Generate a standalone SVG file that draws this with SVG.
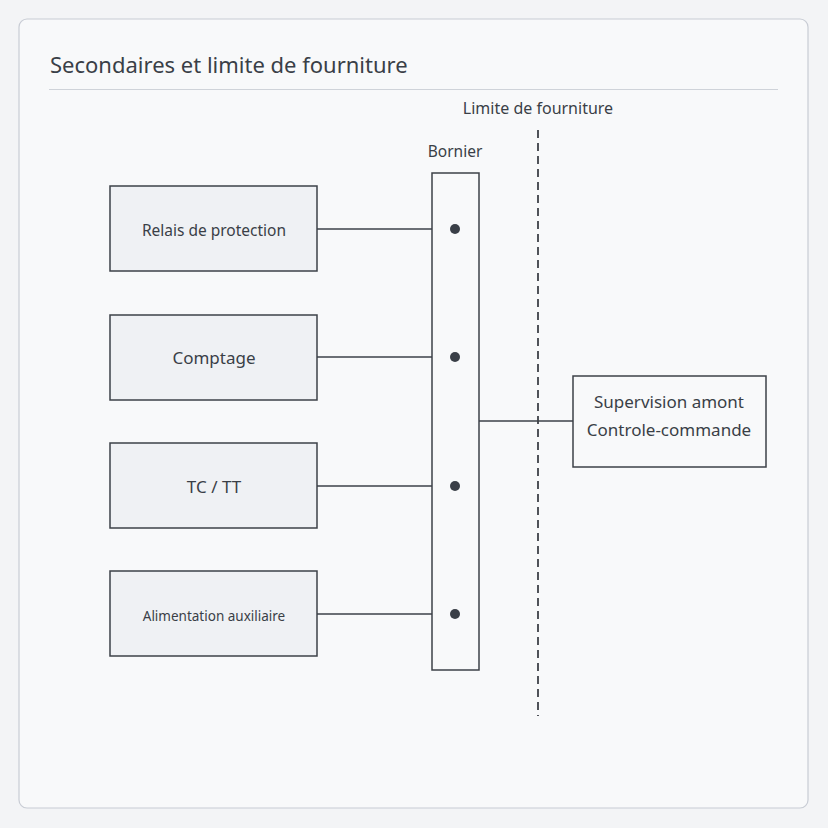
<svg xmlns="http://www.w3.org/2000/svg" width="828" height="828" viewBox="0 0 828 828">
<style>
text{font-family:"Noto Sans","Open Sans","DejaVu Sans",sans-serif;fill:#3a3f47}
.box{fill:#eff1f4;stroke:#3d4148;stroke-width:1.5}
.wire{stroke:#3d4148;stroke-width:1.5;fill:none}
.dot{fill:#3a3f47}
</style>
<rect x="0" y="0" width="828" height="828" fill="#f3f4f6"/>
<rect x="19" y="19" width="789" height="789" rx="8" fill="#f8f9fa" stroke="#c8ccd4" stroke-width="1.2"/>
<text x="50" y="73" font-size="22">Secondaires et limite de fourniture</text>
<line x1="49" y1="89.5" x2="778" y2="89.5" stroke="#cfd3d9" stroke-width="1.2"/>
<g id="connectors">
<line class="wire" x1="317" y1="229" x2="432" y2="229"/>
<line class="wire" x1="317" y1="357" x2="432" y2="357"/>
<line class="wire" x1="317" y1="486" x2="432" y2="486"/>
<line class="wire" x1="317" y1="614" x2="432" y2="614"/>
<line class="wire" x1="479" y1="421" x2="573" y2="421"/>
</g>
<g id="limite">
<line x1="538" y1="130" x2="538" y2="716" stroke="#3d4148" stroke-width="1.8" stroke-dasharray="8 5"/>
<text x="538" y="114" font-size="16" text-anchor="middle">Limite de fourniture</text>
</g>
<g id="relais">
<rect class="box" x="110" y="186" width="207" height="85"/>
<text x="214" y="236" font-size="15.5" text-anchor="middle">Relais de protection</text>
</g>
<g id="comptage">
<rect class="box" x="110" y="315" width="207" height="85"/>
<text x="214" y="364" font-size="17" text-anchor="middle">Comptage</text>
</g>
<g id="tctt">
<rect class="box" x="110" y="443" width="207" height="85"/>
<text x="214" y="493" font-size="17" text-anchor="middle">TC / TT</text>
</g>
<g id="alim">
<rect class="box" x="110" y="571" width="207" height="85"/>
<text x="214" y="621" font-size="13.5" text-anchor="middle">Alimentation auxiliaire</text>
</g>
<g id="bornier">
<text x="455" y="157" font-size="15.5" text-anchor="middle">Bornier</text>
<rect x="432" y="173" width="47" height="497" fill="#f8f9fa" stroke="#3d4148" stroke-width="1.5"/>
<circle class="dot" cx="455" cy="229" r="5"/>
<circle class="dot" cx="455" cy="357" r="5"/>
<circle class="dot" cx="455" cy="486" r="5"/>
<circle class="dot" cx="455" cy="614" r="5"/>
</g>
<g id="supervision">
<rect x="573" y="376" width="193" height="91" fill="#f8f9fa" stroke="#3d4148" stroke-width="1.5"/>
<text x="669" y="408" font-size="17" text-anchor="middle">Supervision amont</text>
<text x="669" y="436" font-size="17" text-anchor="middle">Controle-commande</text>
</g>
</svg>
